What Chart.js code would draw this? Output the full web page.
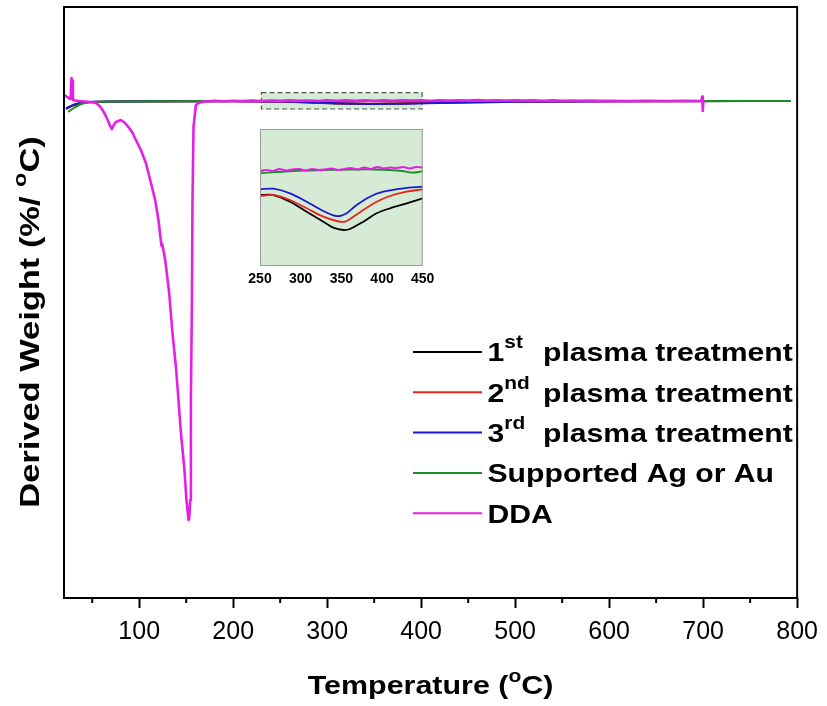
<!DOCTYPE html>
<html><head><meta charset="utf-8">
<script src="https://cdn.jsdelivr.net/npm/chart.js@4.4.1/dist/chart.umd.min.js"></script>
<style>
html,body{margin:0;padding:0;background:#fff;}
#wrap{position:relative;width:827px;height:706px;background:#fff;}
#main{position:absolute;left:0;top:0;}
#inset{position:absolute;left:230px;top:119px;}
</style></head><body>
<div id="wrap"><canvas id="main" width="827" height="706"></canvas><canvas id="inset" width="215" height="180"></canvas></div>
<script>
// ---------------- data ----------------
const seriesNames = ['1st plasma treatment','2nd plasma treatment','3rd plasma treatment','Supported Ag or Au','DDA'];
const seriesColors = ['#000000','#e8231c','#1a1acc','#17901f','#e41fe6'];

const xMajorTicks = [100,200,300,400,500,600,700,800];
const xMinorTicks = [50,150,250,350,450,550,650,750];
const insetTicks = [250,300,350,400,450];

// main panel (Derived weight, %/°C)
const plasmaTemp = [23,26,30,35,41,50,75,100,150,200,250,280,310,345,380,420,460,500,550,600,650,700,750,792];
const plasma1 = [-0.075,-0.06,-0.042,-0.027,-0.016,-0.01,-0.006,-0.004,-0.003,-0.002,-0.006,-0.014,-0.024,-0.03,-0.026,-0.016,-0.01,-0.006,-0.004,-0.003,-0.002,-0.002,-0.001,-0.001];
const plasma2 = [-0.072,-0.058,-0.04,-0.026,-0.015,-0.009,-0.005,-0.003,-0.002,-0.002,-0.005,-0.012,-0.022,-0.028,-0.024,-0.014,-0.008,-0.005,-0.003,-0.002,-0.002,-0.001,-0.001,-0.001];
const plasma3 = [-0.07,-0.056,-0.038,-0.024,-0.014,-0.008,-0.005,-0.003,-0.002,-0.001,-0.004,-0.011,-0.022,-0.03,-0.028,-0.02,-0.014,-0.008,-0.004,-0.002,-0.001,-0.001,0,0];
const supportTemp = [25,28,32,37,43,50,80,120,200,300,400,500,600,700,750,792];
const supportValue = [-0.105,-0.085,-0.06,-0.035,-0.018,-0.01,-0.004,-0.002,0,0.001,0,0,0.001,0,0.001,0];
const ddaTemp = [19,22,25,27,28,28.8,29.5,32,36,42,48,54,58,61,64,67,69,71,73,75.2,78,80.5,85,89.4,93,96.5,101.8,107.1,112.5,117,120.5,123.1,123.8,124.5,127.7,131.9,135.4,139.1,141.8,144.4,147.9,150.3,152.5,153.2,154.3,155,156.1,156.7,157.8,160.3,163.9,170,180,190,200,210,220,230,240,250,260,270,280,290,300,310,320,330,340,350,360,370,380,390,400,410,420,430,440,450,460,470,480,490,500,510,520,530,540,550,560,570,580,590,600,620,640,660,680,698,699,699.6,700.2];
const ddaValue = [0.06,0.05,0.03,0.02,0.23,0.2,0.01,0.005,0,-0.005,-0.01,-0.02,-0.05,-0.09,-0.14,-0.2,-0.25,-0.28,-0.24,-0.21,-0.2,-0.19,-0.22,-0.27,-0.32,-0.39,-0.49,-0.62,-0.82,-0.99,-1.19,-1.4,-1.45,-1.43,-1.59,-1.92,-2.32,-2.66,-2.99,-3.32,-3.66,-3.99,-4.19,-4.18,-3.99,-2.99,-1.99,-1.0,-0.26,-0.04,-0.017,-0.005,0.002,-0.003,0.003,-0.001,0.004,0,0.005,0.001,0.006,0.002,0.005,0,0.006,0.002,0.007,0.003,0.006,0.001,0.007,0.003,0.008,0.004,0.008,0.003,0.007,0.004,0.008,0.005,0.009,0.004,0.008,0.005,0.008,0.004,0.007,0.003,0.006,0.002,0.005,0.001,0.004,0.001,0.003,0,0.003,0,0.002,0,0.045,-0.1,0];
const zoomBoxTemp = [230,401];
const zoomBoxValue = [-0.08,0.083];

// inset panel (250-450 °C)
const insetTemp = [250,266.4,286.9,307.4,327.9,340.1,348.3,356.5,368.8,385.2,401.6,426.2,450];
const inset3 = [-0.0193,-0.0187,-0.0233,-0.0317,-0.041,-0.0453,-0.046,-0.0433,-0.035,-0.0267,-0.0217,-0.0183,-0.0167];
const inset2Temp = [250,266.4,286.9,307.4,327.9,344.3,354.5,364.8,377,393.4,409.8,430.3,450];
const inset2 = [-0.026,-0.025,-0.03,-0.0383,-0.0467,-0.051,-0.0517,-0.0467,-0.04,-0.0317,-0.026,-0.0217,-0.0193];
const inset1Temp = [250,266.4,286.9,307.4,327.9,340.1,352.4,360.6,377,393.4,409.8,430.3,450];
const inset1 = [-0.025,-0.025,-0.0317,-0.0417,-0.0517,-0.0577,-0.06,-0.059,-0.0517,-0.0433,-0.0383,-0.0333,-0.0283];
const insetSupportTemp = [250,270,290,310,330,350,370,390,410,425,435,445,450];
const insetSupport = [-0.0033,-0.002,-0.001,-0.0005,0,0.0002,0.0005,0.0005,0,-0.001,-0.0025,-0.002,-0.001];
const insetDdaTemp = [250,258,266,274,282,290,298,306,314,322,330,338,346,354,362,370,378,386,394,402,410,418,426,434,442,450];
const insetDda = [-0.001,0,-0.001,0.001,-0.0005,0.0005,0.001,-0.0005,0.001,0,0.0005,0.0015,0,0.001,0.002,0.0005,0.0025,0.001,0.003,0.0015,0.0025,0.002,0.003,0.0015,0.003,0.0025];

// ---------------- helpers ----------------
const FAM = '"Liberation Sans", Arial, Helvetica, sans-serif';
const GREEN_BG = '#d5ebd5';
const pts = (xs, ys) => xs.map((x, i) => ({x, y: ys[i]}));

function drawParts(ctx, parts, scaleX, align) {
  let total = 0;
  parts.forEach(p => { ctx.font = 'bold ' + p.size + 'px ' + FAM; p.w = ctx.measureText(p.text).width; total += p.w; });
  let cx = align === 'center' ? -total / 2 : 0;
  ctx.scale(scaleX, 1);
  parts.forEach(p => { ctx.font = 'bold ' + p.size + 'px ' + FAM; ctx.fillText(p.text, cx, -(p.rise || 0)); cx += p.w; });
}

const mainDecor = {
  id: 'mainDecor',
  beforeDatasetsDraw(chart) {
    const {ctx, scales: {x, y}} = chart;
    const x0 = x.getPixelForValue(zoomBoxTemp[0]), x1 = x.getPixelForValue(zoomBoxTemp[1]);
    const y0 = y.getPixelForValue(zoomBoxValue[1]), y1 = y.getPixelForValue(zoomBoxValue[0]);
    ctx.save();
    ctx.fillStyle = GREEN_BG;
    ctx.fillRect(x0, y0, x1 - x0, y1 - y0);
    ctx.setLineDash([5, 3]);
    ctx.strokeStyle = '#555';
    ctx.lineWidth = 1.2;
    ctx.strokeRect(x0, y0, x1 - x0, y1 - y0);
    ctx.restore();
  },
  afterDraw(chart) {
    const {ctx, chartArea: a, scales: {x}} = chart;
    ctx.save();
    // frame
    ctx.strokeStyle = '#000'; ctx.lineWidth = 2;
    ctx.strokeRect(a.left, a.top, a.right - a.left, a.bottom - a.top);
    // minor ticks
    ctx.beginPath();
    xMinorTicks.forEach(v => { const px = x.getPixelForValue(v); ctx.moveTo(px, a.bottom); ctx.lineTo(px, a.bottom + 5); });
    ctx.stroke();
    ctx.fillStyle = '#000';
    ctx.textBaseline = 'alphabetic';
    // x title
    ctx.save();
    ctx.translate((a.left + a.right) / 2, 693.5);
    drawParts(ctx, [{text: 'Temperature (', size: 26}, {text: 'o', size: 18, rise: 11.5}, {text: 'C)', size: 26}], 1.17, 'center');
    ctx.restore();
    // y title
    ctx.save();
    ctx.translate(39, 322);
    ctx.rotate(-Math.PI / 2);
    drawParts(ctx, [{text: 'Derived Weight (%/ ', size: 28}, {text: 'o', size: 19, rise: 13}, {text: 'C)', size: 28}], 1.23, 'center');
    ctx.restore();
    // legend
    const ds = chart.data.datasets;
    ds.forEach((d, i) => {
      const ly = 352 + i * 40.3;
      ctx.strokeStyle = d.borderColor; ctx.lineWidth = 2;
      ctx.beginPath(); ctx.moveTo(413, ly); ctx.lineTo(482, ly); ctx.stroke();
      const base = ly + 9.3;
      const m = d.label.match(/^(\d+)(st|nd|rd|th)\s(.*)$/);
      ctx.save();
      ctx.translate(487.5, base);
      if (m) {
        drawParts(ctx, [{text: m[1], size: 26}, {text: m[2], size: 18, rise: 13}], 1.16, 'left');
        ctx.restore(); ctx.save();
        ctx.translate(543, base);
        drawParts(ctx, [{text: m[3], size: 26}], 1.16, 'left');
      } else {
        drawParts(ctx, [{text: d.label, size: 26}], 1.16, 'left');
      }
      ctx.restore();
    });
    ctx.restore();
  }
};

const insetDecor = {
  id: 'insetDecor',
  beforeDatasetsDraw(chart) {
    const {ctx, chartArea: a} = chart;
    ctx.save(); ctx.fillStyle = GREEN_BG;
    ctx.fillRect(a.left, a.top, a.right - a.left, a.bottom - a.top);
    ctx.restore();
  },
  afterDraw(chart) {
    const {ctx, chartArea: a} = chart;
    ctx.save(); ctx.strokeStyle = '#9a9a9a'; ctx.lineWidth = 1;
    ctx.strokeRect(a.left + 0.5, a.top + 0.5, a.right - a.left - 1, a.bottom - a.top - 1);
    ctx.restore();
  }
};

Chart.defaults.font.family = FAM;

new Chart(document.getElementById('main'), {
  type: 'line',
  data: {datasets: [
    {label: seriesNames[0], data: pts(plasmaTemp, plasma1), borderColor: seriesColors[0], borderWidth: 2, order: 5},
    {label: seriesNames[1], data: pts(plasmaTemp, plasma2), borderColor: seriesColors[1], borderWidth: 2, order: 4},
    {label: seriesNames[2], data: pts(plasmaTemp, plasma3), borderColor: seriesColors[2], borderWidth: 2, order: 3},
    {label: seriesNames[3], data: pts(supportTemp, supportValue), borderColor: seriesColors[3], borderWidth: 2, order: 2},
    {label: seriesNames[4], data: pts(ddaTemp, ddaValue), borderColor: seriesColors[4], borderWidth: 2.6, order: 1}
  ]},
  options: {
    responsive: false, animation: false, devicePixelRatio: 1,
    layout: {padding: {left: 64, right: 28, top: 7, bottom: 0}},
    elements: {point: {radius: 0}, line: {tension: 0, borderJoinStyle: 'round', borderCapStyle: 'round'}},
    plugins: {legend: {display: false}, tooltip: {enabled: false}},
    scales: {
      x: {type: 'linear', min: 20, max: 800,
        afterBuildTicks: s => { s.ticks = xMajorTicks.map(v => ({value: v})); },
        afterFit: s => { s.height = 108; },
        ticks: {autoSkip: false, maxRotation: 0, color: '#000', font: {family: FAM, size: 25}, padding: 9, callback: v => String(v)},
        grid: {drawOnChartArea: false, drawTicks: true, tickLength: 10, tickWidth: 2, tickColor: '#000'},
        border: {display: false}},
      y: {display: false, min: -4.97, max: 0.94}
    }
  },
  plugins: [mainDecor]
});

new Chart(document.getElementById('inset'), {
  type: 'line',
  data: {datasets: [
    {label: seriesNames[0], data: pts(inset1Temp, inset1), borderColor: seriesColors[0], borderWidth: 1.8, order: 5},
    {label: seriesNames[1], data: pts(inset2Temp, inset2), borderColor: seriesColors[1], borderWidth: 1.8, order: 4},
    {label: seriesNames[2], data: pts(insetTemp, inset3), borderColor: seriesColors[2], borderWidth: 1.8, order: 3},
    {label: seriesNames[3], data: pts(insetSupportTemp, insetSupport), borderColor: seriesColors[3], borderWidth: 1.8, order: 2},
    {label: seriesNames[4], data: pts(insetDdaTemp, insetDda), borderColor: seriesColors[4], borderWidth: 2.2, order: 1}
  ]},
  options: {
    responsive: false, animation: false, devicePixelRatio: 1,
    layout: {padding: {left: 30, right: 22.3, top: 10, bottom: 0}},
    elements: {point: {radius: 0}, line: {tension: 0.3}},
    plugins: {legend: {display: false}, tooltip: {enabled: false}},
    scales: {
      x: {type: 'linear', min: 250, max: 450,
        afterBuildTicks: s => { s.ticks = insetTicks.map(v => ({value: v})); },
        afterFit: s => { s.height = 33; },
        ticks: {autoSkip: false, maxRotation: 0, color: '#000', font: {family: FAM, size: 14, weight: 'bold'}, padding: 5, callback: v => String(v)},
        grid: {display: false, drawTicks: false},
        border: {display: false}},
      y: {display: false, min: -0.096, max: 0.041}
    }
  },
  plugins: [insetDecor]
});
</script>
</body></html>
